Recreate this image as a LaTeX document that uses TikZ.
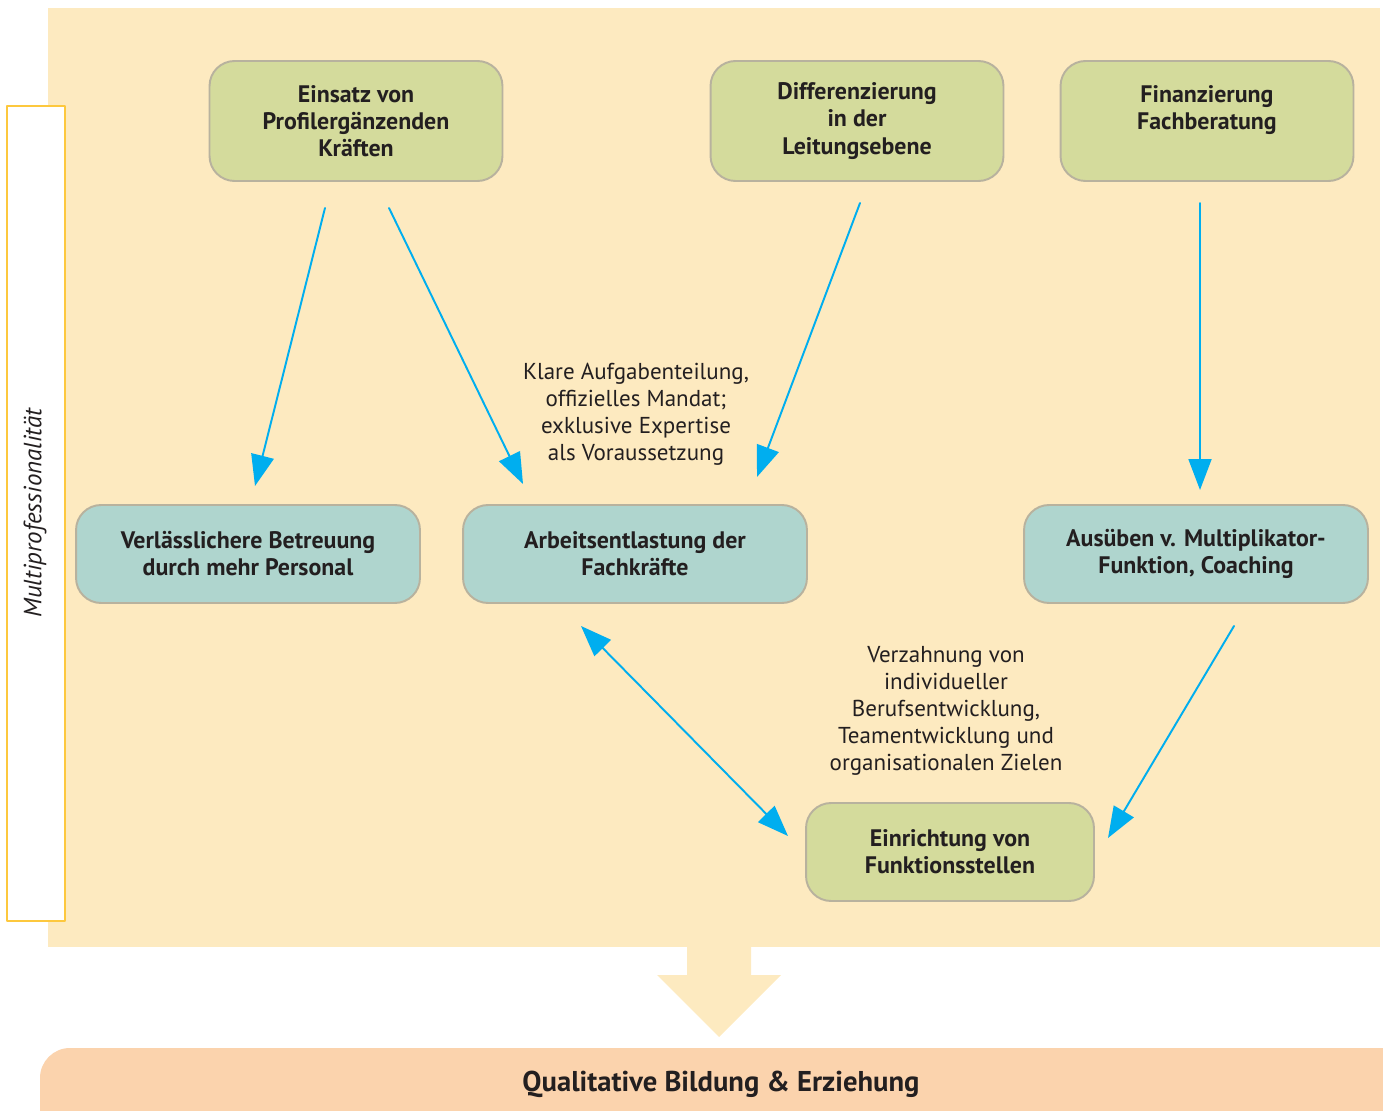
\documentclass[tikz,border=0pt]{standalone}
\usepackage{fontspec}
\setmainfont{PT Sans}
\usetikzlibrary{arrows.meta}
\definecolor{bgyellow}{HTML}{FDEAC0}
\definecolor{boxgreen}{HTML}{D4DB9C}
\definecolor{boxteal}{HTML}{AFD5CE}
\definecolor{boxgray}{HTML}{B8B29E}
\definecolor{arrblue}{HTML}{00AEEF}
\definecolor{sideyellow}{HTML}{FDC83E}
\definecolor{barorange}{HTML}{FBD3AD}
\definecolor{txt}{HTML}{231F20}
\begin{document}
\begin{tikzpicture}[x=0.02cm, y=-0.02cm, line join=round, line cap=round,
	font=\fontsize{13.1}{15.4}\selectfont, text=txt,
	box/.style={draw=boxgray, line width=1.1pt, rounded corners=0.5cm,
		align=center, font=\fontsize{13.6}{15.4}\selectfont\bfseries},
	topbox/.style={box, fill=boxgreen, minimum width=5.86cm, minimum height=2.4cm},
	midbox/.style={box, fill=boxteal, minimum width=6.88cm, minimum height=1.96cm},
	arr/.style={draw=arrblue, line width=1.1pt, -{Triangle[length=0.62cm,width=0.46cm]}},
	darr/.style={arr, {Triangle[length=0.62cm,width=0.46cm]}-{Triangle[length=0.62cm,width=0.46cm]}}]
	\clip (0,0) rectangle (1383,1111);
	% background and side label
	\fill[bgyellow] (48,8) rectangle (1380,947);
	\draw[sideyellow, line width=1.2pt, fill=white] (7,106) rectangle (65,921);
	\node[rotate=90, font=\fontsize{14.2}{16}\selectfont\itshape] (M) at (35,513) {Multiprofessionalität};
	% boxes
	\node[topbox] (A) at (356,121) {Einsatz von\\Profilergänzenden\\Kräften};
	\node[topbox] (B) at (857,121) {Differenzierung\\in der\\Leitungsebene};
	\node[topbox] (C) at (1207,121) {Finanzierung\\Fachberatung\\\mbox{}};
	\node[midbox] (D) at (248,554) {Verlässlichere Betreuung\\durch mehr Personal};
	\node[midbox] (E) at (635,554) {Arbeitsentlastung der\\Fachkräfte};
	\node[midbox] (F) at (1196,554) {Ausüben v. Multiplikator-\\Funktion, Coaching};
	\node[box, fill=boxgreen, minimum width=5.76cm, minimum height=1.96cm] (G) at (950,852)
		{Einrichtung von\\Funktionsstellen};
	% labels
	\node[align=center] (L1) at (636,414) {Klare Aufgabenteilung,\\offizielles Mandat;\\exklusive Expertise\\als Voraussetzung};
	\node[align=center] (L2) at (946,711) {Verzahnung von\\individueller\\Berufsentwicklung,\\Teamentwicklung und\\organisationalen Zielen};
	% arrow ends
	\path
	(325,208) coordinate (A1) (255,486) coordinate (D1)
	(389,208) coordinate (A2) (523,484) coordinate (E1)
	(860,203) coordinate (B1) (757,477) coordinate (E2)
	(1200,203) coordinate (C1) (1200,490) coordinate (F1)
	(581,626) coordinate (E3) (788,836) coordinate (G1)
	(1234,626) coordinate (F2) (1108,838) coordinate (G2);
	\foreach \p/\q in {A1/D1,A2/E1,B1/E2,C1/F1,F2/G2}
	\draw[arr] (\p)--(\q);
	\draw[darr] (E3)--(G1);
	% result
	\fill[bgyellow] (687,947)--(687,975)--(657,975)--(719,1037)--(781,975)--(751,975)--(751,947)--cycle;
	\fill[barorange, rounded corners=0.6cm] (40,1048) rectangle (1440,1160);
	\node[font=\fontsize{16.3}{19}\selectfont\bfseries] (Q) at (721,1084) {Qualitative Bildung \& Erziehung};
\end{tikzpicture}
\end{document}
